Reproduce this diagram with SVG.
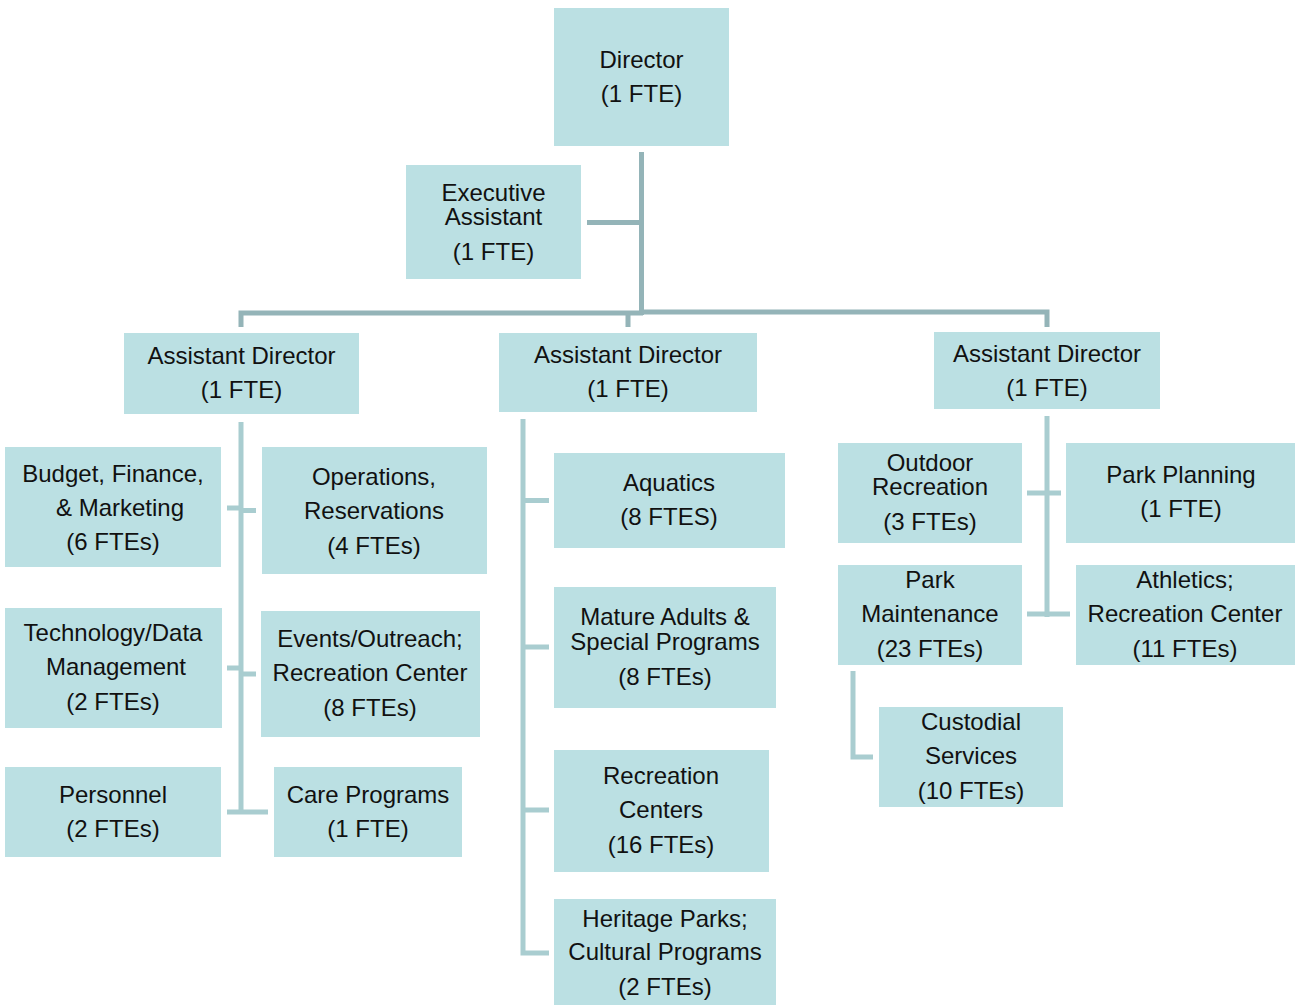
<svg xmlns="http://www.w3.org/2000/svg" width="1300" height="1005" viewBox="0 0 1300 1005">
  <style>
    .box { fill: #BBE0E3; }
    .lbl { font-family: "Liberation Sans", Arial, sans-serif; font-size: 24px; fill: #111; text-anchor: middle; }
    .trunk { fill: none; stroke: #94B4B8; stroke-width: 5; }
    .branch { fill: none; stroke: #A9CDD0; stroke-width: 5; }
  </style>
  <rect width="1300" height="1005" fill="#fff"/>

  <!-- connectors -->
  <g id="connectors">
    <path class="trunk" d="M641.5 152 V315 M587 222.5 H641.5"/>
    <path class="trunk" d="M241 327 V313 H643 M641 312 H1047 V327 M628 327 V313"/>
    <!-- left branch -->
    <path class="branch" d="M241 422 V812 M227 508 H241 M241 510.5 H256 M227 668 H241 M241 674 H256 M227 812 H268"/>
    <!-- middle branch -->
    <path class="branch" d="M523 419 V953 H549 M523 500.5 H549 M523 647 H549 M523 810 H549"/>
    <!-- right branch -->
    <path class="branch" d="M1047 416 V617 M1027 493 H1061 M1027 614 H1070"/>
    <path class="branch" d="M853 671 V757 H873"/>
  </g>

  <g id="director">
    <rect class="box" x="554" y="8" width="175" height="138"/>
    <text class="lbl" x="641.5" y="68">Director</text>
    <text class="lbl" x="641.5" y="102">(1 FTE)</text>
  </g>
  <g id="exec-assistant">
    <rect class="box" x="406" y="165" width="175" height="114"/>
    <text class="lbl" x="493.5" y="201">Executive</text>
    <text class="lbl" x="493.5" y="225">Assistant</text>
    <text class="lbl" x="493.5" y="260">(1 FTE)</text>
  </g>

  <g id="asst-dir-left">
    <rect class="box" x="124" y="333" width="235" height="81"/>
    <text class="lbl" x="241.5" y="364">Assistant Director</text>
    <text class="lbl" x="241.5" y="398">(1 FTE)</text>
  </g>
  <g id="asst-dir-middle">
    <rect class="box" x="499" y="333" width="258" height="79"/>
    <text class="lbl" x="628" y="363">Assistant Director</text>
    <text class="lbl" x="628" y="397">(1 FTE)</text>
  </g>
  <g id="asst-dir-right">
    <rect class="box" x="934" y="332" width="226" height="77"/>
    <text class="lbl" x="1047" y="362">Assistant Director</text>
    <text class="lbl" x="1047" y="396">(1 FTE)</text>
  </g>

  <!-- left division -->
  <g id="budget">
    <rect class="box" x="5" y="447" width="216" height="120"/>
    <text class="lbl" x="113" y="482">Budget, Finance,</text>
    <text class="lbl" x="120" y="516">&amp; Marketing</text>
    <text class="lbl" x="113" y="550">(6 FTEs)</text>
  </g>
  <g id="operations">
    <rect class="box" x="262" y="447" width="225" height="127"/>
    <text class="lbl" x="374" y="485">Operations,</text>
    <text class="lbl" x="374" y="519">Reservations</text>
    <text class="lbl" x="374" y="554">(4 FTEs)</text>
  </g>
  <g id="technology">
    <rect class="box" x="5" y="608" width="217" height="120"/>
    <text class="lbl" x="113" y="641">Technology/Data</text>
    <text class="lbl" x="116" y="675">Management</text>
    <text class="lbl" x="113" y="710">(2 FTEs)</text>
  </g>
  <g id="events">
    <rect class="box" x="261" y="611" width="219" height="126"/>
    <text class="lbl" x="370" y="647">Events/Outreach;</text>
    <text class="lbl" x="370" y="681">Recreation Center</text>
    <text class="lbl" x="370" y="716">(8 FTEs)</text>
  </g>
  <g id="personnel">
    <rect class="box" x="5" y="767" width="216" height="90"/>
    <text class="lbl" x="113" y="803">Personnel</text>
    <text class="lbl" x="113" y="837">(2 FTEs)</text>
  </g>
  <g id="care">
    <rect class="box" x="274" y="767" width="188" height="90"/>
    <text class="lbl" x="368" y="803">Care Programs</text>
    <text class="lbl" x="368" y="837">(1 FTE)</text>
  </g>

  <!-- middle division -->
  <g id="aquatics">
    <rect class="box" x="554" y="453" width="231" height="95"/>
    <text class="lbl" x="669" y="491">Aquatics</text>
    <text class="lbl" x="669" y="525">(8 FTES)</text>
  </g>
  <g id="mature-adults">
    <rect class="box" x="554" y="587" width="222" height="121"/>
    <text class="lbl" x="665" y="625">Mature Adults &amp;</text>
    <text class="lbl" x="665" y="650">Special Programs</text>
    <text class="lbl" x="665" y="685">(8 FTEs)</text>
  </g>
  <g id="rec-centers">
    <rect class="box" x="554" y="750" width="215" height="122"/>
    <text class="lbl" x="661" y="784">Recreation</text>
    <text class="lbl" x="661" y="818">Centers</text>
    <text class="lbl" x="661" y="853">(16 FTEs)</text>
  </g>
  <g id="heritage">
    <rect class="box" x="554" y="899" width="222" height="106"/>
    <text class="lbl" x="665" y="927">Heritage Parks;</text>
    <text class="lbl" x="665" y="960">Cultural Programs</text>
    <text class="lbl" x="665" y="995">(2 FTEs)</text>
  </g>

  <!-- right division -->
  <g id="outdoor">
    <rect class="box" x="838" y="443" width="184" height="100"/>
    <text class="lbl" x="930" y="471">Outdoor</text>
    <text class="lbl" x="930" y="495">Recreation</text>
    <text class="lbl" x="930" y="530">(3 FTEs)</text>
  </g>
  <g id="park-planning">
    <rect class="box" x="1066" y="443" width="229" height="100"/>
    <text class="lbl" x="1181" y="483">Park Planning</text>
    <text class="lbl" x="1181" y="517">(1 FTE)</text>
  </g>
  <g id="park-maintenance">
    <rect class="box" x="838" y="565" width="184" height="100"/>
    <text class="lbl" x="930" y="588">Park</text>
    <text class="lbl" x="930" y="622">Maintenance</text>
    <text class="lbl" x="930" y="657">(23 FTEs)</text>
  </g>
  <g id="athletics">
    <rect class="box" x="1076" y="565" width="219" height="100"/>
    <text class="lbl" x="1185" y="588">Athletics;</text>
    <text class="lbl" x="1185" y="622">Recreation Center</text>
    <text class="lbl" x="1185" y="657">(11 FTEs)</text>
  </g>
  <g id="custodial">
    <rect class="box" x="879" y="707" width="184" height="100"/>
    <text class="lbl" x="971" y="730">Custodial</text>
    <text class="lbl" x="971" y="764">Services</text>
    <text class="lbl" x="971" y="799">(10 FTEs)</text>
  </g>
</svg>
